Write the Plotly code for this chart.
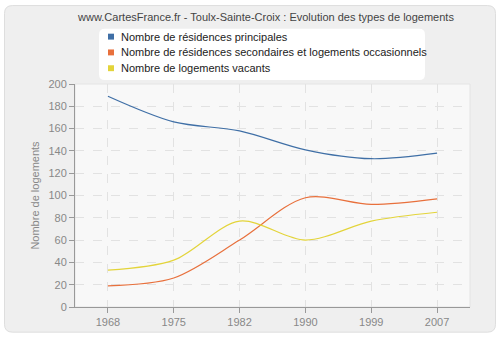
import plotly.graph_objects as go

years = ["1968", "1975", "1982", "1990", "1999", "2007"]
principales = [189, 166, 158, 141, 133, 138]
secondaires = [19, 26, 60, 98, 92, 97]
vacants = [33, 42, 77, 60, 77, 85]

names = [
    "Nombre de résidences principales",
    "Nombre de résidences secondaires et logements occasionnels",
    "Nombre de logements vacants",
]
colors = ["#3f6fa6", "#e8703c", "#e3d43a"]
series = [principales, secondaires, vacants]

W, H = 500, 340
L, R, T, B = 75, 30, 84, 30
pw, ph = W - L - R, H - T - B


def px(x):
    return (x - L) / pw


def py(y):
    return (H - B - y) / ph


def rrect(x0, y0, x1, y1, r):
    return (
        f"M {px(x0 + r)} {py(y0)} L {px(x1 - r)} {py(y0)} "
        f"Q {px(x1)} {py(y0)} {px(x1)} {py(y0 + r)} "
        f"L {px(x1)} {py(y1 - r)} Q {px(x1)} {py(y1)} {px(x1 - r)} {py(y1)} "
        f"L {px(x0 + r)} {py(y1)} Q {px(x0)} {py(y1)} {px(x0)} {py(y1 - r)} "
        f"L {px(x0)} {py(y0 + r)} Q {px(x0)} {py(y0)} {px(x0 + r)} {py(y0)} Z"
    )


fig = go.Figure()
for name, vals, c in zip(names, series, colors):
    fig.add_trace(go.Scatter(
        x=years, y=vals, mode="lines", name=name,
        line=dict(color=c, width=1.2, shape="spline", smoothing=0.9),
        showlegend=False, hoverinfo="x+y",
    ))

font_fam = "Liberation Sans, Arial, sans-serif"

shapes = [
    dict(type="path", xref="paper", yref="paper", layer="below",
         path=rrect(4.5, 4.5, 495.5, 335.5, 8),
         fillcolor="#efefef", line=dict(color="#dedede", width=1)),
    dict(type="path", xref="paper", yref="paper", layer="below",
         path=rrect(99, 28, 425, 80, 6),
         fillcolor="white", line=dict(color="white", width=0)),
    dict(type="rect", xref="paper", yref="paper", layer="below",
         x0=0, y0=0, x1=1, y1=1, fillcolor="#f8f8f8",
         line=dict(color="#e4e4e4", width=1)),
]
annotations = []
for i, (name, c) in enumerate(zip(names, colors)):
    cy = 36 + 16 * i
    shapes.append(dict(type="rect", xref="paper", yref="paper",
                       x0=px(108), x1=px(114), y0=py(cy - 3), y1=py(cy + 3),
                       fillcolor=c, line=dict(width=0)))
    annotations.append(dict(text=name, xref="paper", yref="paper",
                            x=px(119), y=py(cy), xanchor="left", yanchor="middle",
                            showarrow=False,
                            font=dict(size=11, color="#222", family=font_fam)))

fig.update_layout(
    width=W, height=H,
    margin=dict(l=L, r=R, t=T, b=B),
    paper_bgcolor="white",
    plot_bgcolor="#f8f8f8",
    showlegend=False,
    font=dict(family=font_fam, size=11, color="#555"),
    title=dict(
        text="www.CartesFrance.fr - Toulx-Sainte-Croix : Evolution des types de logements",
        x=px(266), xref="paper", xanchor="center",
        y=1 - 17 / H, yanchor="middle",
        font=dict(size=11, color="#444", family=font_fam),
    ),
    xaxis=dict(
        type="category", range=[-0.5, 5.5],
        showline=True, linecolor="#999", linewidth=1,
        ticks="outside", ticklen=5, tickcolor="#999",
        showgrid=True, gridcolor="#e2e2e2", griddash="dash", gridwidth=1,
        tickfont=dict(size=11, color="#888"),
        zeroline=False, fixedrange=True,
    ),
    yaxis=dict(
        range=[0, 200], dtick=20,
        showline=True, linecolor="#999", linewidth=1,
        ticks="outside", ticklen=5, tickcolor="#999",
        showgrid=True, gridcolor="#e2e2e2", griddash="dash", gridwidth=1,
        tickfont=dict(size=11, color="#888"),
        title=dict(text="Nombre de logements", font=dict(size=11, color="#888"), standoff=6),
        zeroline=False, fixedrange=True,
    ),
    shapes=shapes,
    annotations=annotations,
)

fig.write_html("out.html")
